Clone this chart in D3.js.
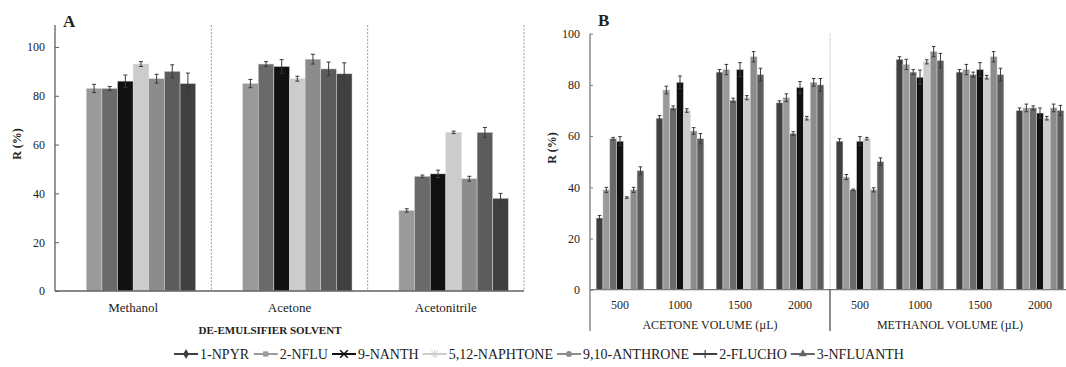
<!DOCTYPE html>
<html lang="en">
<head>
<meta charset="utf-8">
<title>Recovery by de-emulsifier solvent and volume</title>
<script src="https://d3js.org/d3.v7.min.js"></script>
<style>
body { margin: 0; background: #fff; }
text { font-family: "Liberation Serif", "Times New Roman", serif; fill: #222; }
.bold { font-weight: bold; }
</style>
</head>
<body>
<script>
// series colours, in bar order (slot 0 is empty in panel A)
var seriesColors = ["#404040", "#9a9a9a", "#6a6a6a", "#111111", "#cccccc", "#8c8c8c", "#5c5c5c", "#404040"];

// panel A: de-emulsifier solvent
var solventsA = ["Methanol", "Acetone", "Acetonitrile"];
var methanolA = [null, 83, 83, 86, 93, 87, 90, 85];
var methanolErrA = [0, 1.7, 0.8, 2.5, 1, 1.8, 2.7, 4.3];
var acetoneA = [null, 85, 93, 92, 87, 95, 91, 89];
var acetoneErrA = [0, 1.7, 1, 2.8, 1, 2, 2.8, 4.5];
var acetonitrileA = [null, 33, 47, 48, 65, 46, 65, 38];
var acetonitrileErrA = [0, 0.7, 0.5, 1.5, 0.5, 1, 2, 2];

// panel B: solvent volume
var volumes = ["500", "1000", "1500", "2000"];
var groupNamesB = ["ACETONE VOLUME (\u00b5L)", "METHANOL VOLUME (\u00b5L)"];
var acetone500 = [28, 39, 59, 58, 36, 39, 46.5];
var acetone500Err = [1, 1, 0.5, 1.8, 0.3, 1, 1.5];
var acetone1000 = [67, 78, 71, 81, 70, 62, 59];
var acetone1000Err = [1, 1.5, 0.8, 2.5, 0.7, 1.3, 2];
var acetone1500 = [85, 86, 74, 86, 75, 91, 84];
var acetone1500Err = [1, 2, 0.8, 2.7, 0.8, 2, 2.5];
var acetone2000 = [73, 75, 61, 79, 67, 81, 80];
var acetone2000Err = [0.8, 1.5, 0.7, 2.3, 0.7, 1.5, 2.5];
var methanol500 = [58, 44, 39, 58, 59, 39, 50];
var methanol500Err = [1, 1, 0.3, 1.8, 0.5, 0.8, 1.5];
var methanol1000 = [90, 88, 85, 83, 89, 93, 89.5];
var methanol1000Err = [1, 2, 1, 2.8, 0.8, 2, 2.8];
var methanol1500 = [85, 86, 84, 86, 83, 91, 84];
var methanol1500Err = [1, 2, 1, 2.7, 0.7, 2, 2.5];
var methanol2000 = [70, 71, 71, 69, 67, 71, 70];
var methanol2000Err = [1, 1.5, 0.8, 2, 0.7, 1.5, 2];

var yTicks = [0, 20, 40, 60, 80, 100];

// legend
var legendNames = ["1-NPYR", "2-NFLU", "9-NANTH", "5,12-NAPHTONE", "9,10-ANTHRONE", "2-FLUCHO", "3-NFLUANTH"];
var legendColors = ["#404040", "#9a9a9a", "#111111", "#cccccc", "#8c8c8c", "#404040", "#666666"];
var legendSymbols = ["diamond", "square", "x", "asterisk", "circle", "plus", "triangle"];

var W = 1066, H = 367;
var svg = d3.select("body").append("svg").attr("width", W).attr("height", H);

function drawBars(g, cats, rows, errs, x0, x1, y, cap) {
  var groups = g.selectAll(".grp").data(cats).enter().append("g")
    .attr("transform", function(d) { return "translate(" + x0(d) + ",0)"; });
  groups.each(function(c, ci) {
    var items = rows[ci].map(function(v, i) { return {v: v, e: errs[ci][i], i: i}; })
      .filter(function(d) { return d.v !== null; });
    var gg = d3.select(this);
    gg.selectAll("rect").data(items).enter().append("rect")
      .attr("x", function(d) { return x1(d.i); })
      .attr("width", x1.bandwidth())
      .attr("y", function(d) { return y(d.v); })
      .attr("height", function(d) { return y(0) - y(d.v); })
      .attr("fill", function(d) { return seriesColors[d.i]; })
      .attr("stroke", "#d8d8d8").attr("stroke-width", 0.5);
    var eb = gg.selectAll(".err").data(items).enter().append("g").attr("class", "err")
      .attr("stroke", "#3a3a3a").attr("stroke-width", 1);
    eb.append("line")
      .attr("x1", function(d) { return x1(d.i) + x1.bandwidth() / 2; })
      .attr("x2", function(d) { return x1(d.i) + x1.bandwidth() / 2; })
      .attr("y1", function(d) { return y(d.v - d.e); })
      .attr("y2", function(d) { return y(d.v + d.e); });
    [-1, 1].forEach(function(s) {
      eb.append("line")
        .attr("x1", function(d) { return x1(d.i) + x1.bandwidth() / 2 - cap; })
        .attr("x2", function(d) { return x1(d.i) + x1.bandwidth() / 2 + cap; })
        .attr("y1", function(d) { return y(d.v + s * d.e); })
        .attr("y2", function(d) { return y(d.v + s * d.e); });
    });
  });
}

// ---------- panel A ----------
var gA = svg.append("g");
var xA = d3.scaleBand().domain(solventsA).range([55, 524]);
var xA1 = d3.scaleBand().domain(d3.range(8)).range([0, xA.bandwidth()]).paddingOuter(1);
var yA = d3.scaleLinear().domain([0, 109]).range([291, 25]);

// dashed separators
gA.selectAll(".sep").data(solventsA).enter().append("line")
  .attr("x1", function(d) { return xA(d) + xA.bandwidth(); })
  .attr("x2", function(d) { return xA(d) + xA.bandwidth(); })
  .attr("y1", yA(109)).attr("y2", yA(0))
  .attr("stroke", "#9a9a9a").attr("stroke-width", 1).attr("stroke-dasharray", "2,1.5");

drawBars(gA, solventsA, [methanolA, acetoneA, acetonitrileA],
  [methanolErrA, acetoneErrA, acetonitrileErrA], xA, xA1, yA, 2);

var axA = gA.append("g").attr("transform", "translate(55,0)")
  .call(d3.axisRight(yA).tickValues(yTicks).tickSize(4).tickFormat(d3.format("d")));
axA.select(".domain").remove();
axA.selectAll("line").attr("stroke", "#606060");
axA.selectAll("text").attr("x", -10).attr("text-anchor", "end")
  .style("font-family", "Liberation Serif").style("font-size", "12px").attr("fill", "#222");
gA.append("line").attr("x1", 55).attr("x2", 55).attr("y1", yA(109)).attr("y2", yA(0))
  .attr("stroke", "#606060").attr("stroke-width", 1.3);
gA.append("line").attr("x1", 55).attr("x2", 524).attr("y1", yA(0)).attr("y2", yA(0))
  .attr("stroke", "#606060").attr("stroke-width", 1.3);

gA.selectAll(".catA").data(solventsA).enter().append("text")
  .attr("x", function(d) { return xA(d) + xA.bandwidth() / 2; })
  .attr("y", 312).attr("text-anchor", "middle").style("font-size", "13px")
  .text(function(d) { return d; });
gA.append("text").attr("class", "bold").attr("x", 270).attr("y", 334)
  .attr("text-anchor", "middle").style("font-size", "11px").text("DE-EMULSIFIER SOLVENT");
gA.append("text").attr("class", "bold").attr("transform", "translate(21,144) rotate(-90)")
  .attr("text-anchor", "middle").style("font-size", "12px").text("R (%)");
gA.append("text").attr("class", "bold").attr("x", 63).attr("y", 27)
  .style("font-size", "17px").text("A");

// ---------- panel B ----------
var gB = svg.append("g");
var catsB = [];
groupNamesB.forEach(function(g, gi) {
  volumes.forEach(function(v) { catsB.push(gi + "-" + v); });
});
var xB = d3.scaleBand().domain(catsB).range([590, 1070]);
var xB1 = d3.scaleBand().domain(d3.range(7)).range([0, xB.bandwidth()]).paddingOuter(0.9);
var yB = d3.scaleLinear().domain([0, 100]).range([289.7, 33.7]);
var sepX = xB(catsB[4]);

gB.append("line").attr("x1", sepX).attr("x2", sepX).attr("y1", yB(100)).attr("y2", yB(0))
  .attr("stroke", "#c0c0c0").attr("stroke-width", 1).attr("stroke-dasharray", "1.5,1");

drawBars(gB, catsB,
  [acetone500, acetone1000, acetone1500, acetone2000, methanol500, methanol1000, methanol1500, methanol2000],
  [acetone500Err, acetone1000Err, acetone1500Err, acetone2000Err, methanol500Err, methanol1000Err, methanol1500Err, methanol2000Err],
  xB, xB1, yB, 1.8);

var axB = gB.append("g").attr("transform", "translate(590,0)")
  .call(d3.axisRight(yB).tickValues(yTicks).tickSize(3).tickFormat(d3.format("d")));
axB.select(".domain").remove();
axB.selectAll("line").attr("stroke", "#7a7a7a");
axB.selectAll("text").attr("x", -10).attr("text-anchor", "end")
  .style("font-family", "Liberation Serif").style("font-size", "12px").attr("fill", "#222");
gB.append("line").attr("x1", 590).attr("x2", 590).attr("y1", yB(100)).attr("y2", 331)
  .attr("stroke", "#7a7a7a").attr("stroke-width", 1.3);
gB.append("line").attr("x1", 590).attr("x2", 1070).attr("y1", yB(0)).attr("y2", yB(0))
  .attr("stroke", "#7a7a7a").attr("stroke-width", 1.3);
gB.append("line").attr("x1", sepX).attr("x2", sepX).attr("y1", yB(0)).attr("y2", 331)
  .attr("stroke", "#404040").attr("stroke-width", 1.2);

gB.selectAll(".volB").data(catsB).enter().append("text")
  .attr("x", function(d) { return xB(d) + xB.bandwidth() / 2; })
  .attr("y", 309).attr("text-anchor", "middle").style("font-size", "12px")
  .text(function(d) { return d.split("-")[1]; });
gB.selectAll(".grpB").data(groupNamesB).enter().append("text")
  .attr("x", function(d, i) { return xB(catsB[i * 4]) + 2 * xB.bandwidth(); })
  .attr("y", 329).attr("text-anchor", "middle").style("font-size", "12px")
  .text(function(d) { return d; });
gB.append("text").attr("class", "bold").attr("transform", "translate(556,148) rotate(-90)")
  .attr("text-anchor", "middle").style("font-size", "12px").text("R (%)");
gB.append("text").attr("class", "bold").attr("x", 598).attr("y", 26)
  .style("font-size", "17px").text("B");

// ---------- legend ----------
var gL = svg.append("g").attr("transform", "translate(0,354)");
var lineLen = 24, cx = 0, gap = 4;
var items = gL.selectAll(".leg").data(legendNames).enter().append("g");
items.append("line").attr("x1", 0).attr("x2", lineLen).attr("y1", 0).attr("y2", 0)
  .attr("stroke", function(d, i) { return legendColors[i]; }).attr("stroke-width", 2);
items.each(function(d, i) {
  var g = d3.select(this), c = legendColors[i], s = legendSymbols[i], m = lineLen / 2;
  if (s === "diamond") g.append("path").attr("d", d3.symbol(d3.symbolDiamond, 30)()).attr("transform", "translate(" + m + ",0)").attr("fill", c);
  if (s === "square") g.append("path").attr("d", d3.symbol(d3.symbolSquare, 28)()).attr("transform", "translate(" + m + ",0)").attr("fill", c);
  if (s === "circle") g.append("path").attr("d", d3.symbol(d3.symbolCircle, 28)()).attr("transform", "translate(" + m + ",0)").attr("fill", c);
  if (s === "triangle") g.append("path").attr("d", d3.symbol(d3.symbolTriangle, 28)()).attr("transform", "translate(" + m + ",0)").attr("fill", c);
  if (s === "x") g.append("path").attr("d", d3.symbol(d3.symbolX, 40)()).attr("transform", "translate(" + m + ",0)").attr("stroke", c).attr("stroke-width", 1.5);
  if (s === "plus") g.append("line").attr("x1", m).attr("x2", m).attr("y1", -4).attr("y2", 4).attr("stroke", c).attr("stroke-width", 1.2);
  if (s === "asterisk") {
    g.append("path").attr("d", d3.symbol(d3.symbolX, 30)()).attr("transform", "translate(" + m + ",0)").attr("stroke", c).attr("stroke-width", 1);
    g.append("line").attr("x1", m).attr("x2", m).attr("y1", -4).attr("y2", 4).attr("stroke", c).attr("stroke-width", 1);
  }
});
items.append("text").attr("x", lineLen + 2).attr("y", 5).style("font-size", "14px")
  .text(function(d) { return d; });
var offsets = [];
items.each(function() {
  offsets.push(cx);
  cx += this.getBBox().width + gap;
});
var total = cx - gap;
items.attr("transform", function(d, i) {
  return "translate(" + (offsets[i] + 539 - total / 2) + ",0)";
});
</script>
</body>
</html>
